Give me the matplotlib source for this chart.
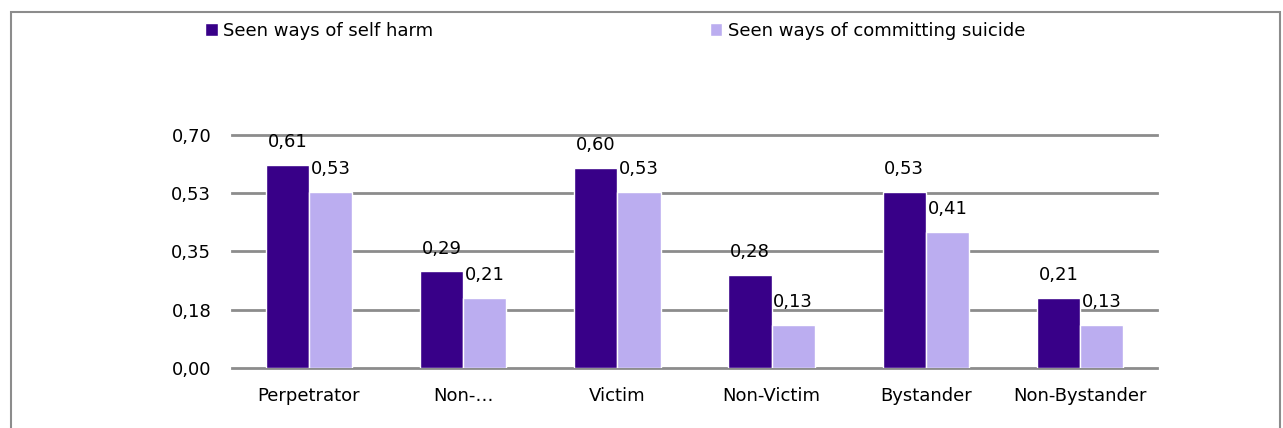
import numpy as np
import matplotlib.pyplot as plt
from matplotlib.patches import Rectangle

categories = ["Perpetrator", "Non-…", "Victim", "Non-Victim", "Bystander", "Non-Bystander"]
self_harm = [0.61, 0.29, 0.60, 0.28, 0.53, 0.21]
suicide = [0.53, 0.21, 0.53, 0.13, 0.41, 0.13]
series_names = ["Seen ways of self harm", "Seen ways of committing suicide"]
y_ticks = [0.0, 0.175, 0.35, 0.525, 0.70]
y_tick_labels = ["0,00", "0,18", "0,35", "0,53", "0,70"]

dark = '#380088'
light = '#bbadf0'
grid_gray = '#8c8c8c'

plt.rcParams['font.family'] = ['DejaVu Sans']
fs = 13

fig = plt.figure(figsize=(12.83, 4.28), dpi=100)
ax = fig.add_axes([0.1808, 0.1402, 0.7210, 0.5444])

x = np.arange(len(categories))
w = 0.28
b1 = ax.bar(x - w/2, self_harm, w, color=dark, edgecolor='white', linewidth=1, zorder=3, label=series_names[0])
b2 = ax.bar(x + w/2, suicide, w, color=light, edgecolor='white', linewidth=1, zorder=3, label=series_names[1])

# value labels above each bar, decimal comma
for bars, vals in ((b1, self_harm), (b2, suicide)):
    for rect, v in zip(bars, vals):
        ax.annotate(f"{v:.2f}".replace('.', ','),
                    (rect.get_x() + rect.get_width()/2, v),
                    xytext=(0, 10), textcoords='offset points',
                    ha='center', va='bottom', fontsize=fs, zorder=4)

ax.set_xlim(-0.5, len(categories) - 0.5)
ax.set_ylim(0, 0.70)
ax.set_yticks(y_ticks)
ax.set_yticklabels(y_tick_labels, fontsize=fs)
ax.set_xticks(x)
ax.set_xticklabels(categories, fontsize=fs)
ax.tick_params(axis='both', length=0)
ax.tick_params(axis='x', pad=14)
ax.tick_params(axis='y', pad=15)
for s in ax.spines.values():
    s.set_visible(False)
ax.yaxis.grid(True, color=grid_gray, linewidth=2, zorder=0)
for gl in ax.get_ygridlines():
    gl.set_clip_on(False)
ax.set_axisbelow(True)

fig.legend(handles=[b1, b2], loc='center left', bbox_to_anchor=(0.160, 0.928),
           ncol=2, frameon=False, fontsize=fs, handlelength=0.7, handleheight=0.7,
           handletextpad=0.3, columnspacing=15.3, borderaxespad=0, borderpad=0)

# outer chart border
fig.patches.append(Rectangle((11/1283, -0.1), 1269/1283, 1.1 - 12/428,
                             transform=fig.transFigure, fill=False,
                             edgecolor=grid_gray, linewidth=1.5))

fig.savefig('out.png', dpi=100)
